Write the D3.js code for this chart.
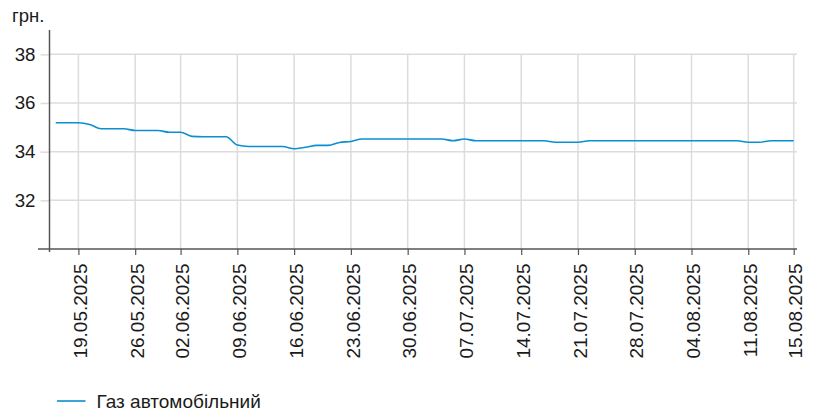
<!DOCTYPE html>
<html>
<head>
<meta charset="utf-8">
<script src="https://cdn.jsdelivr.net/npm/d3@7"></script>
<style>
  html, body { margin: 0; padding: 0; background: #fff; }
  svg { display: block; font-family: "Liberation Sans", Arial, sans-serif; }
</style>
</head>
<body>
<svg id="chart" width="815" height="418"></svg>
<script>
// ---- Data ----
const dates = [
  "15.05.2025","16.05.2025","19.05.2025","20.05.2025","21.05.2025","22.05.2025","23.05.2025",
  "26.05.2025","27.05.2025","28.05.2025","29.05.2025",
  "02.06.2025","03.06.2025","04.06.2025","05.06.2025","06.06.2025",
  "09.06.2025","10.06.2025","11.06.2025","12.06.2025","13.06.2025",
  "16.06.2025","17.06.2025","18.06.2025","19.06.2025","20.06.2025",
  "23.06.2025","24.06.2025","25.06.2025","26.06.2025","27.06.2025",
  "30.06.2025","01.07.2025","02.07.2025","03.07.2025","04.07.2025",
  "07.07.2025","08.07.2025","09.07.2025","10.07.2025","11.07.2025",
  "14.07.2025","15.07.2025","16.07.2025","17.07.2025","18.07.2025",
  "21.07.2025","22.07.2025","23.07.2025","24.07.2025","25.07.2025",
  "28.07.2025","29.07.2025","30.07.2025","31.07.2025","01.08.2025",
  "04.08.2025","05.08.2025","06.08.2025","07.08.2025","08.08.2025",
  "11.08.2025","12.08.2025","13.08.2025","14.08.2025","15.08.2025"
];
const gasPrices = [
  35.19, 35.19, 35.19, 35.12, 34.94, 34.94, 34.94,
  34.87, 34.87, 34.87, 34.80,
  34.80, 34.63, 34.61, 34.61, 34.61,
  34.27, 34.21, 34.21, 34.21, 34.21,
  34.12, 34.18, 34.26, 34.26, 34.38,
  34.42, 34.52, 34.52, 34.52, 34.52,
  34.52, 34.52, 34.52, 34.52, 34.45,
  34.52, 34.45, 34.45, 34.45, 34.45,
  34.45, 34.45, 34.45, 34.39, 34.39,
  34.39, 34.45, 34.45, 34.45, 34.45,
  34.45, 34.45, 34.45, 34.45, 34.45,
  34.45, 34.45, 34.45, 34.45, 34.45,
  34.39, 34.39, 34.45, 34.45, 34.45
];
const xTickLabels = [
  "19.05.2025","26.05.2025","02.06.2025","09.06.2025","16.06.2025","23.06.2025","30.06.2025",
  "07.07.2025","14.07.2025","21.07.2025","28.07.2025","04.08.2025","11.08.2025","15.08.2025"
];
const yTicks = [32, 34, 36, 38];
const seriesName = "Газ автомобільний";
const unitLabel = "грн.";

// ---- Layout ----
const svg = d3.select("#chart");
const plotLeft = 49.5, plotBottom = 249, plotTop = 30, plotRight = 797;
const lineColor = "#0a8fd0";
const gridColor = "#dcdcdc";
const axisColor = "#555";
const textColor = "#1a1a1a";
const fontFamily = "Liberation Sans, Arial, sans-serif";

const x = d3.scalePoint().domain(dates).range([55.7, 793.7]);
const y = d3.scaleLinear().domain([30, 39]).range([plotBottom, plotTop]);

// horizontal grid
svg.append("g").selectAll("line").data(yTicks).join("line")
  .attr("x1", plotLeft).attr("x2", plotRight)
  .attr("y1", d => y(d)).attr("y2", d => y(d))
  .attr("stroke", gridColor).attr("stroke-width", 1.5);

// vertical grid
svg.append("g").selectAll("line").data(xTickLabels).join("line")
  .attr("x1", d => x(d)).attr("x2", d => x(d))
  .attr("y1", y(38)).attr("y2", plotBottom)
  .attr("stroke", gridColor).attr("stroke-width", 1.5);

// y axis
const yAxis = svg.append("g").attr("transform", `translate(${plotLeft},0)`)
  .call(d3.axisLeft(y).tickValues(yTicks).tickSize(9).tickPadding(5).tickFormat(d3.format("d")));
yAxis.select(".domain").remove();
yAxis.selectAll(".tick line").attr("stroke", gridColor).attr("stroke-width", 1.5);
yAxis.selectAll(".tick text").attr("font-size", 18.7).attr("fill", textColor)
  .attr("font-family", fontFamily);
svg.append("line").attr("x1", plotLeft).attr("x2", plotLeft)
  .attr("y1", plotTop).attr("y2", plotBottom + 3)
  .attr("stroke", axisColor).attr("stroke-width", 1.5);

// x axis
const xAxis = svg.append("g").attr("transform", `translate(0,${plotBottom})`)
  .call(d3.axisBottom(x).tickValues(xTickLabels).tickSize(6).tickSizeOuter(0));
xAxis.select(".domain").remove();
xAxis.selectAll(".tick line").attr("stroke", axisColor).attr("stroke-width", 1.2);
xAxis.selectAll(".tick text")
  .attr("font-size", 19).attr("fill", textColor)
  .attr("font-family", fontFamily)
  .attr("text-anchor", "end")
  .attr("transform", "translate(1.5,14.5) rotate(-90)")
  .attr("x", 0).attr("y", 0).attr("dy", "0.35em");
svg.append("line").attr("x1", 38).attr("x2", plotRight)
  .attr("y1", plotBottom).attr("y2", plotBottom)
  .attr("stroke", axisColor).attr("stroke-width", 1.5);

// unit label
svg.append("text").attr("x", 12).attr("y", 22)
  .attr("font-size", 18.5).attr("fill", textColor).text(unitLabel);

// line
const line = d3.line()
  .x((d, i) => x(dates[i]))
  .y(d => y(d))
  .curve(d3.curveMonotoneX);
svg.append("path").datum(gasPrices)
  .attr("d", line)
  .attr("fill", "none").attr("stroke", lineColor).attr("stroke-width", 1.6);

// legend
const lg = svg.append("g").attr("transform", "translate(57,401)");
lg.append("line").attr("x1", 0).attr("x2", 28.5).attr("y1", 0).attr("y2", 0)
  .attr("stroke", lineColor).attr("stroke-width", 1.6);
lg.append("text").attr("x", 39.5).attr("y", 6.5).attr("font-size", 19).attr("fill", textColor)
  .text(seriesName);
</script>
</body>
</html>
